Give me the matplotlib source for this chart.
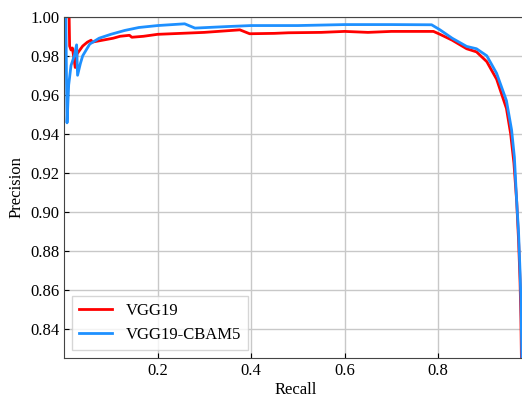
import numpy as np
import matplotlib.pyplot as plt

plt.rcParams['font.family'] = ['Liberation Serif', 'DejaVu Serif']
plt.rcParams['font.size'] = 12

# PR curve points
vgg_recall = [0.011, 0.012, 0.015, 0.018, 0.024, 0.028, 0.034, 0.040, 0.050, 0.058, 0.060,
              0.105, 0.120, 0.140, 0.145, 0.170, 0.185, 0.200, 0.250, 0.300, 0.376, 0.397,
              0.450, 0.480, 0.550, 0.600, 0.650, 0.700, 0.790, 0.804, 0.830, 0.861, 0.882,
              0.904, 0.925, 0.946, 0.955, 0.962, 0.968, 0.972, 0.975, 0.977, 0.978]
vgg_precision = [1.000, 0.985, 0.983, 0.984, 0.974, 0.981, 0.983, 0.985, 0.987, 0.988, 0.987,
                 0.989, 0.990, 0.9905, 0.9895, 0.990, 0.9905, 0.991, 0.9915, 0.992, 0.9933, 0.9913,
                 0.9915, 0.9918, 0.992, 0.9925, 0.992, 0.9925, 0.9925, 0.991, 0.988, 0.9836, 0.982,
                 0.977, 0.968, 0.953, 0.940, 0.925, 0.905, 0.885, 0.865, 0.845, 0.825]

cbam_recall = [0.004, 0.005, 0.0065, 0.010, 0.015, 0.022, 0.027, 0.029, 0.035, 0.040, 0.055,
               0.075, 0.100, 0.130, 0.160, 0.200, 0.258, 0.280, 0.350, 0.400, 0.500, 0.600,
               0.700, 0.786, 0.804, 0.830, 0.861, 0.882, 0.904, 0.925, 0.946, 0.957, 0.963,
               0.968, 0.972, 0.975, 0.977, 0.979]
cbam_precision = [1.000, 0.975, 0.9456, 0.965, 0.975, 0.980, 0.9856, 0.970, 0.976, 0.980, 0.986,
                  0.989, 0.991, 0.993, 0.9945, 0.9955, 0.9964, 0.9942, 0.995, 0.9955, 0.9955, 0.996,
                  0.996, 0.9959, 0.9933, 0.989, 0.9848, 0.9836, 0.980, 0.971, 0.957, 0.942, 0.928,
                  0.905, 0.889, 0.870, 0.855, 0.825]

fig = plt.figure(figsize=(5.22, 3.94), dpi=100)
ax = fig.add_axes([0.1226, 0.0914, 0.887, 0.866])

ax.plot(vgg_recall, vgg_precision, color='#ff0000', lw=2, label='VGG19')
ax.plot(cbam_recall, cbam_precision, color='#1e90ff', lw=2, label='VGG19-CBAM5')

ax.set_xlim(0, 0.99)
ax.set_ylim(0.825, 1.0)
ax.set_xticks([0.2, 0.4, 0.6, 0.8])
ax.set_yticks(np.arange(0.84, 1.001, 0.02))
ax.set_yticklabels(['%.2f' % v for v in np.arange(0.84, 1.001, 0.02)])
ax.tick_params(direction='in', labelsize=12)
ax.grid(True, color='#c8c8c8', lw=1)
ax.set_axisbelow(True)
for s in ax.spines.values():
    s.set_color('#444444')

ax.set_xlabel('Recall', fontsize=12, labelpad=2)
ax.set_ylabel('Precision', fontsize=12)
ax.legend(loc='lower left', fontsize=12, fancybox=False, edgecolor='#cccccc')

fig.savefig('out.png', dpi=100)
